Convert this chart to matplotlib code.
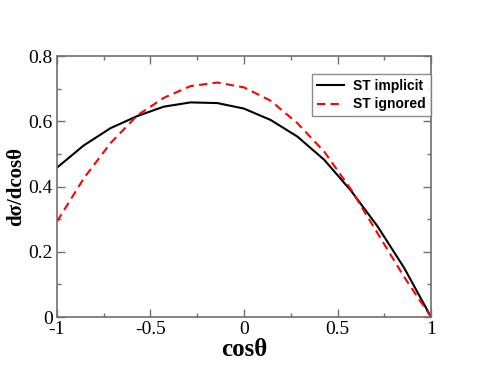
import numpy as np
import matplotlib.pyplot as plt
from matplotlib.ticker import MultipleLocator

# cos(theta) grid (step 1/7)
cos_theta = [-1.0, -0.857, -0.714, -0.571, -0.429, -0.286, -0.143, 0.0,
             0.143, 0.286, 0.429, 0.571, 0.714, 0.857, 1.0]
st_implicit = [0.458, 0.526, 0.579, 0.616, 0.645, 0.658, 0.656, 0.639,
               0.604, 0.553, 0.482, 0.388, 0.278, 0.150, 0.0]
st_ignored = [0.293, 0.425, 0.533, 0.618, 0.672, 0.708, 0.719, 0.704,
              0.663, 0.594, 0.507, 0.392, 0.257, 0.122, 0.0]

fig = plt.figure(figsize=(4.85, 3.74), dpi=100)
ax = fig.add_axes([0.1175, 0.1524, 0.7712, 0.6976])

ax.plot(cos_theta, st_implicit, color='black', lw=1.5, label="ST implicit")
ax.plot(cos_theta, st_ignored, color='red', lw=1.5, ls=(0, (4, 2.5)), label="ST ignored")

ax.set_xlim(-1, 1)
ax.set_ylim(0, 0.8)
ax.xaxis.set_minor_locator(MultipleLocator(0.25))
ax.yaxis.set_minor_locator(MultipleLocator(0.1))
ax.set_xticks([-1, -0.5, 0, 0.5, 1])
ax.set_xticklabels(['-1', '-0.5', '0', '0.5', '1'])
ax.set_yticks([0, 0.2, 0.4, 0.6, 0.8])
ax.set_yticklabels(['0', '0.2', '0.4', '0.6', '0.8'])

ax.tick_params(which='both', direction='in', top=True, right=True, color='#707070')
ax.tick_params(which='major', length=6, width=1, labelsize=14, pad=3)
ax.tick_params(which='minor', length=3, width=1)
for lab in ax.get_xticklabels() + ax.get_yticklabels():
    lab.set_family('Liberation Serif')
for s in ax.spines.values():
    s.set_color('#707070')
    s.set_linewidth(1.2)

ax.set_xlabel("cosθ", family='Liberation Serif', fontweight='bold', fontsize=18, labelpad=0)
ax.set_ylabel("dσ/dcosθ", family='Liberation Serif', fontweight='bold', fontsize=15, labelpad=2)

leg = ax.legend(loc='upper right', bbox_to_anchor=(1.0, 0.93), fancybox=False,
                prop={'family': 'Liberation Sans', 'weight': 'bold', 'size': 10},
                handlelength=1.9, borderpad=0.35, labelspacing=0.3, handletextpad=0.7,
                borderaxespad=0)
leg.get_frame().set_edgecolor('#707070')
leg.get_frame().set_linewidth(1.0)

fig.savefig("out.png", dpi=100)
